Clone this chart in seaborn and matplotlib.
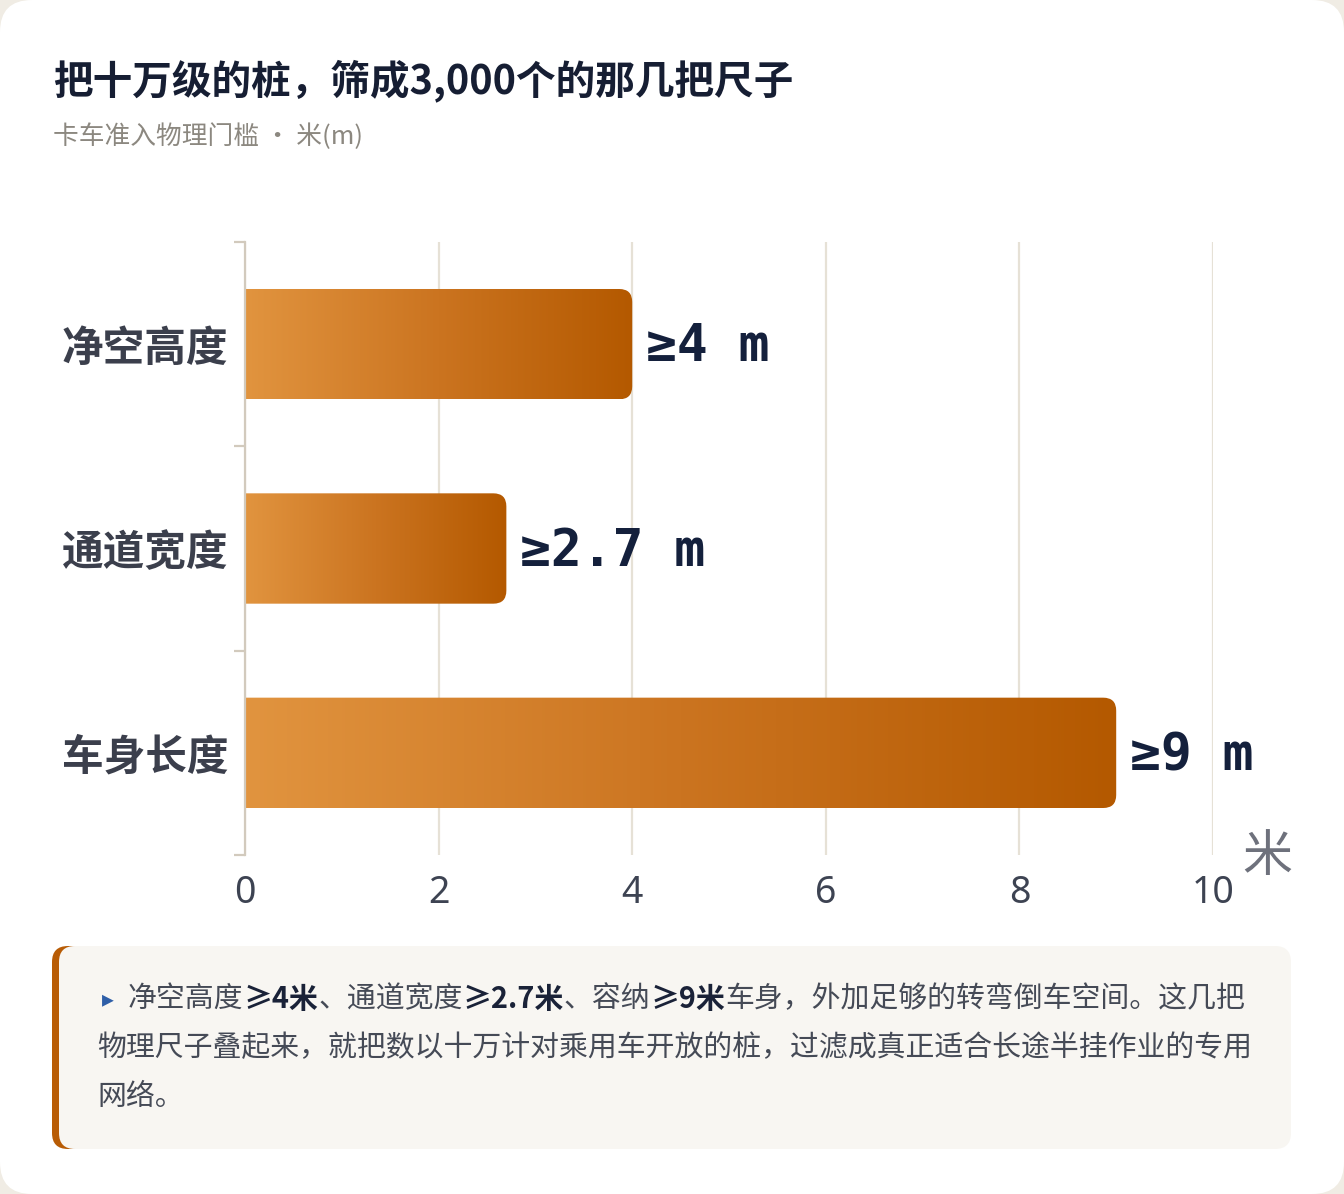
import numpy as np
import pandas as pd
import matplotlib
matplotlib.use("Agg")
import matplotlib.pyplot as plt
import seaborn as sns
from matplotlib.patches import FancyBboxPatch, PathPatch
from matplotlib.path import Path
from matplotlib.colors import LinearSegmentedColormap
from matplotlib.ticker import FixedLocator

# ---------------- data ----------------
categories = ["净空高度", "通道宽度", "车身长度"]
values = [4.0, 2.7, 9.0]
value_labels = ["≥4 m", "≥2.7 m", "≥9 m"]
x_ticks = [0, 2, 4, 6, 8, 10]
title = "把十万级的桩，筛成3,000个的那几把尺子"
subtitle = "卡车准入物理门槛 · 米(m)"
axis_unit = "米"
note_lines = [
    [("净空高度", False), ("≥4米", True), ("、通道宽度", False), ("≥2.7米", True),
     ("、容纳", False), ("≥9米", True), ("车身，外加足够的转弯倒车空间。这几把", False)],
    [("物理尺子叠起来，就把数以十万计对乘用车开放的桩，过滤成真正适合长途半挂作业的专用", False)],
    [("网络。", False)],
]

# ---------------- style ----------------
sns.set_theme(style="white")
CJK = ["Noto Sans CJK SC", "DejaVu Sans"]
plt.rcParams["font.family"] = CJK

W, H = 1344, 1194
fig = plt.figure(figsize=(W / 100, H / 100), dpi=100)
fig.patch.set_facecolor("#f0ece4")

# card
card = FancyBboxPatch((0, 0), W, H, boxstyle="round,pad=0,rounding_size=32",
                      transform=None, facecolor="white", edgecolor="none", zorder=-3)
fig.patches.append(card)

# note box (pixel coords, origin bottom-left)
nb_x, nb_top, nb_bot, nb_right = 52, 946, 1149, 1291
orange_box = FancyBboxPatch((nb_x, H - nb_bot), 60, nb_bot - nb_top,
                            boxstyle="round,pad=0,rounding_size=16", transform=None,
                            facecolor="#b85c05", edgecolor="none", zorder=-2)
beige_box = FancyBboxPatch((nb_x + 7, H - nb_bot), nb_right - nb_x - 7, nb_bot - nb_top,
                           boxstyle="round,pad=0,rounding_size=16", transform=None,
                           facecolor="#f8f6f2", edgecolor="none", zorder=-1)
fig.patches.extend([orange_box, beige_box])

# axes
ax_l, ax_r, ax_t, ax_b = 245, 1213, 242, 855
ax = fig.add_axes([ax_l / W, (H - ax_b) / H, (ax_r - ax_l) / W, (ax_b - ax_t) / H])
ax.set_facecolor("none")
ax.set_zorder(2)

df = pd.DataFrame({"cat": categories, "val": values})
sns.barplot(data=df, y="cat", x="val", orient="h", width=0.54, ax=ax,
            color="#cc7322", saturation=1, zorder=3)

ax.set_xlim(0, 10)
ax.set_ylim(2.5, -0.5)

cmap = LinearSegmentedColormap.from_list("bar", ["#e1943f", "#cb7420", "#b45900"])
grad = np.linspace(0, 1, 256).reshape(1, -1)
rx = 13 / 96.8
ry = 13 / 204.0
for p, lab in zip(list(ax.patches), value_labels):
    x0, y0 = p.get_x(), p.get_y()
    w, h = p.get_width(), p.get_height()
    x1, y1 = x0 + w, y0 + h
    p.set_visible(False)
    verts = [(x0, y0), (x1 - rx, y0), (x1, y0), (x1, y0 + ry), (x1, y1 - ry),
             (x1, y1), (x1 - rx, y1), (x0, y1), (x0, y0)]
    codes = [Path.MOVETO, Path.LINETO, Path.CURVE3, Path.CURVE3, Path.LINETO,
             Path.CURVE3, Path.CURVE3, Path.LINETO, Path.CLOSEPOLY]
    clip = PathPatch(Path(verts, codes), facecolor="none", edgecolor="none",
                     transform=ax.transData)
    ax.add_patch(clip)
    im = ax.imshow(grad, extent=[x0, x1, y1, y0], cmap=cmap, aspect="auto",
                   interpolation="bilinear", zorder=3)
    im.set_clip_path(clip)
    ax.text(x1 + 0.145, y0 + h / 2 + 0.016, lab, ha="left", va="center",
            fontfamily=["DejaVu Sans Mono"], fontweight="bold", fontsize=37,
            color="#14203c", zorder=5)
ax.set_xlim(0, 10)
ax.set_ylim(2.5, -0.5)

# grid / spines
ax.set_xticks(x_ticks)
ax.xaxis.grid(True, color="#e6e1d6", linewidth=1.6, zorder=0)
ax.yaxis.grid(False)
ax.set_axisbelow(True)
for s in ["top", "right", "bottom"]:
    ax.spines[s].set_visible(False)
ax.spines["left"].set_color("#d2cabd")
ax.spines["left"].set_linewidth(1.6)
ax.spines["left"].set_zorder(4)

ax.yaxis.set_minor_locator(FixedLocator([-0.5, 0.5, 1.5, 2.5]))
ax.tick_params(axis="y", which="minor", length=8, width=1.6, color="#d2cabd", left=True)
ax.tick_params(axis="y", which="major", length=0, pad=12)
ax.tick_params(axis="x", which="major", length=0, pad=13.5)
ax.set_xlabel("")
ax.set_ylabel("")

for t in ax.get_yticklabels():
    t.set_fontfamily(CJK)
    t.set_fontweight("bold")
    t.set_fontsize(30)
    t.set_color("#3b3f4c")
ax.set_xticklabels([str(v) for v in x_ticks])
for t in ax.get_xticklabels():
    t.set_fontfamily(["Noto Sans", "DejaVu Sans"])
    t.set_fontsize(27)
    t.set_color("#3d4352")

# unit label
fig.text(1267 / W, (H - 857) / H, axis_unit, ha="center", va="center",
         fontsize=36, color="#6e717c", fontfamily=CJK)

# title / subtitle
fig.text(53 / W, (H - 81) / H, title, ha="left", va="center", fontsize=28.5,
         fontweight="bold", color="#161e33", fontfamily=CJK)
fig.text(53 / W, (H - 137) / H, subtitle, ha="left", va="center", fontsize=18.5,
         color="#8c8880", fontfamily=CJK)

# note text
renderer = fig.canvas.get_renderer()
line_y = [999, 1048, 1097]
fig.text(102 / W, (H - line_y[0]) / H, "▸", ha="left", va="center", fontsize=17,
         color="#2f5fa8", fontfamily=["DejaVu Sans"])
starts = [128, 97, 97]
for segs, yy, x in zip(note_lines, line_y, starts):
    cur = x
    for txt, bold in segs:
        t = fig.text(cur / W, (H - yy) / H, txt, ha="left", va="center", fontsize=20.8,
                     fontweight="bold" if bold else "normal",
                     color="#1a2238" if bold else "#454a56", fontfamily=CJK)
        bb = t.get_window_extent(renderer)
        cur += bb.width

fig.savefig("out.png", dpi=100, facecolor=fig.get_facecolor())
